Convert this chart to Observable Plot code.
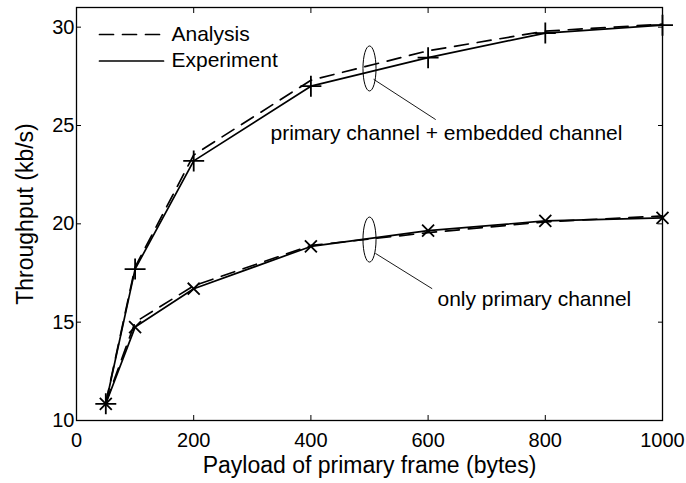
<!DOCTYPE html>
<html>
<head>
<meta charset="utf-8">
<script src="https://cdn.jsdelivr.net/npm/d3@7"></script>
<script src="https://cdn.jsdelivr.net/npm/@observablehq/plot@0.6"></script>
<style>
  html, body { margin: 0; padding: 0; background: #fff; }
  #chart svg { display: block; }
</style>
</head>
<body>
<div id="chart"></div>
<script>
// ---- data ----
const payload = [50, 100, 200, 400, 600, 800, 1000];
const combinedAnalysis   = [10.9, 17.8, 23.5, 27.3, 28.8, 29.8, 30.15];
const combinedExperiment = [10.85, 17.7, 23.2, 27.0, 28.45, 29.7, 30.1];
const primaryAnalysis    = [10.9, 15.0, 16.85, 18.9, 19.55, 20.1, 20.4];
const primaryExperiment  = [10.85, 14.75, 16.7, 18.85, 19.65, 20.15, 20.3];

const xTicks = [0, 200, 400, 600, 800, 1000];
const yTicks = [10, 15, 20, 25, 30];

const groupLabels = ["primary channel + embedded channel", "only primary channel"];
const groupEllipseX = [500, 500];
const groupEllipseY = [27.9, 19.2];
const leaderX1 = [507, 510];
const leaderY1 = [27.35, 18.5];
const leaderX2 = [613, 607];
const leaderY2 = [25.3, 16.7];
const labelX = [331, 616];
const labelY = [24.6, 16.15];

const legendLabels = ["Analysis", "Experiment"];

// ---- build tables ----
const rows = [];
const addSeries = (group, kind, values) =>
  payload.forEach((p, i) => rows.push({group, kind, payload: p, throughput: values[i]}));
addSeries("combined", "Analysis", combinedAnalysis);
addSeries("combined", "Experiment", combinedExperiment);
addSeries("primary", "Analysis", primaryAnalysis);
addSeries("primary", "Experiment", primaryExperiment);

const annots = groupLabels.map((label, i) => ({
  label, ex: groupEllipseX[i], ey: groupEllipseY[i],
  x1: leaderX1[i], y1: leaderY1[i], x2: leaderX2[i], y2: leaderY2[i],
  tx: labelX[i], ty: labelY[i]
}));

const ellipseSymbol = {
  draw(ctx, size) {
    const ry = Math.sqrt(size / Math.PI);
    const rx = ry * 0.29;
    const k = 0.5523;
    ctx.moveTo(rx, 0);
    ctx.bezierCurveTo(rx, ry * k, rx * k, ry, 0, ry);
    ctx.bezierCurveTo(-rx * k, ry, -rx, ry * k, -rx, 0);
    ctx.bezierCurveTo(-rx, -ry * k, -rx * k, -ry, 0, -ry);
    ctx.bezierCurveTo(rx * k, -ry, rx, -ry * k, rx, 0);
    ctx.closePath();
  }
};
const lineShape = { draw(ctx, l) { ctx.moveTo(0, 0); ctx.lineTo(0, -l); } };

const FONT = "'Liberation Sans', Arial, Helvetica, sans-serif";
const fmt = d => String(d);

const chart = Plot.plot({
  width: 686,
  height: 483,
  marginTop: 7,
  marginBottom: 63,
  marginLeft: 76,
  marginRight: 24,
  style: { fontFamily: FONT, fontSize: "20px", color: "black", background: "white" },
  x: { domain: [0, 1000] },
  y: { domain: [10, 31] },
  marks: [
    Plot.frame({ stroke: "black", strokeWidth: 1.3 }),
    Plot.axisX({ anchor: "bottom", ticks: xTicks, tickSize: -5, tickPadding: 17, tickFormat: fmt, fontSize: 20, label: null }),
    Plot.axisX({ anchor: "top", ticks: xTicks, tickSize: -5, tickFormat: () => "", label: null }),
    Plot.axisY({ anchor: "left", ticks: yTicks, tickSize: -5, tickPadding: 7, tickFormat: fmt, fontSize: 20, label: null }),
    Plot.axisY({ anchor: "right", ticks: yTicks, tickSize: -5, tickFormat: () => "", label: null }),
    Plot.text(["Payload of primary frame (bytes)"], {
      frameAnchor: "bottom", dy: 45.5, text: d => d, fontSize: 23, lineAnchor: "middle", textAnchor: "middle"
    }),
    Plot.text(["Throughput (kb/s)"], {
      frameAnchor: "left", dx: -51, text: d => d, fontSize: 23, lineAnchor: "middle", textAnchor: "middle", rotate: -90
    }),
    Plot.line(rows.filter(d => d.kind === "Analysis"), {
      x: "payload", y: "throughput", z: "group", stroke: "black", strokeWidth: 1.7, strokeDasharray: "14,9"
    }),
    Plot.line(rows.filter(d => d.kind === "Experiment"), {
      x: "payload", y: "throughput", z: "group", stroke: "black", strokeWidth: 1.7
    }),
    Plot.dot(rows.filter(d => d.kind === "Experiment" && d.group === "combined"), {
      x: "payload", y: "throughput", symbol: "plus", r: 6.8, stroke: "black", strokeWidth: 1.8
    }),
    Plot.dot(rows.filter(d => d.kind === "Experiment" && d.group === "primary"), {
      x: "payload", y: "throughput", symbol: "times", r: 5.5, stroke: "black", strokeWidth: 1.8
    }),
    Plot.dot(annots, { x: "ex", y: "ey", r: 22.5, symbol: ellipseSymbol, stroke: "black", fill: "none", strokeWidth: 1 }),
    Plot.link(annots, { x1: "x1", y1: "y1", x2: "x2", y2: "y2", stroke: "black", strokeWidth: 0.9 }),
    Plot.text(annots, { x: "tx", y: "ty", text: "label", textAnchor: "start", lineAnchor: "middle", fontSize: 21 }),
    // legend
    Plot.vector([legendLabels[0]], {
      frameAnchor: "top-left", dx: 23, dy: 27, length: 64, rotate: 90, anchor: "start",
      shape: lineShape, stroke: "black", strokeWidth: 1.7, strokeDasharray: "14,9"
    }),
    Plot.vector([legendLabels[1]], {
      frameAnchor: "top-left", dx: 23, dy: 53.5, length: 64, rotate: 90, anchor: "start",
      shape: lineShape, stroke: "black", strokeWidth: 1.7
    }),
    Plot.text([legendLabels[0]], { frameAnchor: "top-left", text: d => d, dx: 95, dy: 26.5, textAnchor: "start", lineAnchor: "middle", fontSize: 21 }),
    Plot.text([legendLabels[1]], { frameAnchor: "top-left", text: d => d, dx: 95, dy: 53, textAnchor: "start", lineAnchor: "middle", fontSize: 21 })
  ]
});

document.getElementById("chart").appendChild(chart);
</script>
</body>
</html>
